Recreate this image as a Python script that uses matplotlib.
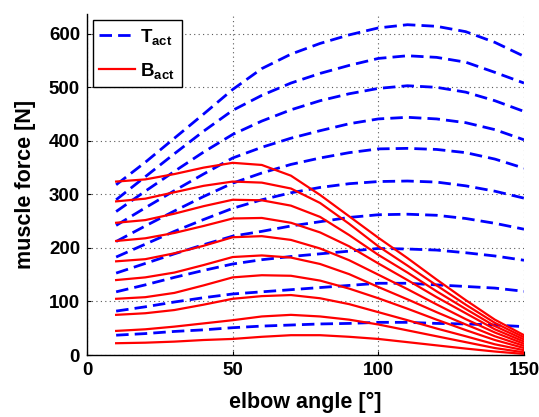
import numpy as np
import matplotlib
matplotlib.use("Agg")
import matplotlib.pyplot as plt

plt.rcParams['font.family'] = ['Liberation Sans', 'DejaVu Sans']
plt.rcParams['font.weight'] = 'bold'
plt.rcParams['mathtext.fontset'] = 'custom'
plt.rcParams['mathtext.rm'] = 'Liberation Sans:bold'
plt.rcParams['mathtext.bf'] = 'Liberation Sans:bold'
plt.rcParams['mathtext.it'] = 'Liberation Sans:bold'

# elbow angle samples (deg)
angle = [10, 20, 30, 40, 50, 60, 70, 80, 90, 100, 110, 120, 130, 140, 150]

# triceps force, one row per activation level (low -> high)
T_act = [
    [37, 40, 44, 47, 51, 54, 56, 58, 59, 61, 61, 59, 58, 56, 53],
    [82, 90, 99, 107, 114, 118, 122, 126, 130, 134, 134, 131, 128, 125, 119],
    [118, 131, 145, 158, 170, 178, 184, 189, 194, 199, 198, 196, 191, 185, 177],
    [153, 171, 189, 206, 222, 231, 241, 249, 257, 262, 263, 261, 255, 246, 235],
    [183, 207, 231, 253, 274, 290, 303, 313, 320, 324, 325, 323, 316, 306, 293],
    [212, 241, 269, 296, 321, 340, 356, 368, 378, 385, 386, 384, 378, 366, 349],
    [242, 275, 307, 338, 368, 388, 405, 419, 432, 441, 444, 441, 434, 421, 402],
    [268, 306, 343, 379, 412, 437, 458, 475, 488, 498, 503, 500, 491, 475, 455],
    [290, 333, 376, 418, 457, 485, 508, 526, 541, 554, 559, 556, 547, 528, 508],
    [318, 360, 405, 450, 496, 535, 562, 582, 598, 611, 617, 614, 604, 584, 558],
]

# biceps force, one row per activation level (low -> high)
B_act = [
    [22, 23, 25, 28, 30, 34, 37, 37, 34, 30, 24, 18, 12, 6.5, 2],
    [45, 48, 53, 59, 65, 72, 75, 72, 66, 57, 46, 35, 24, 13, 5],
    [75, 78, 84, 94, 105, 110, 112, 106, 95, 80, 65, 49.5, 35, 20, 9],
    [105, 108, 116, 130, 145, 149, 148, 139, 124, 106, 86.5, 66, 46.5, 28, 13],
    [140, 145, 154, 168, 183, 186, 182, 170, 151, 127, 104, 80, 57, 35, 17],
    [175, 179, 190, 204, 220, 222, 215, 199, 177, 150, 123, 94.5, 67, 42, 21],
    [213, 218, 228, 241, 255, 256, 247, 229, 203, 171, 140, 108, 78, 48, 25],
    [247, 252, 264, 278, 290, 289, 279, 258, 224, 187, 154, 119, 86, 54, 29],
    [287, 292, 304, 316, 324, 322, 311, 284, 245, 203, 167, 130, 94, 60, 33],
    [324, 328, 338, 350, 359, 355, 335, 299, 259, 219, 181, 141, 102.5, 66, 37],
]

fig = plt.figure(figsize=(5.39, 4.17), dpi=100)
ax = fig.add_axes([87/539, 62/417, 437/539, 341/417])

for i, row in enumerate(T_act):
    ax.plot(angle, row, color='#0000ff', lw=2.0, dashes=(4.5, 2.2),
            label=r'$\mathbf{T}_{\mathbf{act}}$' if i == 0 else None)
for i, row in enumerate(B_act):
    ax.plot(angle, row, color='#ff0000', lw=1.6,
            label=r'$\mathbf{B}_{\mathbf{act}}$' if i == 0 else None)

ax.set_xlim(0, 150)
ax.set_ylim(0, 637)
ax.set_xticks([0, 50, 100, 150])
ax.set_yticks(range(0, 700, 100))
ax.grid(True, color='0.35', linestyle=(0, (1, 3)), lw=0.8)
ax.set_axisbelow(True)
for s in ['top', 'right']:
    ax.spines[s].set_visible(False)
for s in ['left', 'bottom']:
    ax.spines[s].set_linewidth(1.0)
ax.tick_params(direction='in', length=3, labelsize=13.5, pad=5)

ax.set_xlabel('elbow angle [°]', fontsize=15.5, fontweight='bold', labelpad=9)
ax.set_ylabel('muscle force [N]', fontsize=15.5, fontweight='bold', labelpad=9)

leg = ax.legend(loc='upper left', bbox_to_anchor=(0.013, 0.982), fontsize=13.5,
                handlelength=1.9, frameon=True, fancybox=False, framealpha=1,
                edgecolor='k', borderaxespad=0, labelspacing=0.75, borderpad=0.35,
                handletextpad=0.3)
leg.get_frame().set_linewidth(1.0)

fig.savefig('out.png', dpi=100)
